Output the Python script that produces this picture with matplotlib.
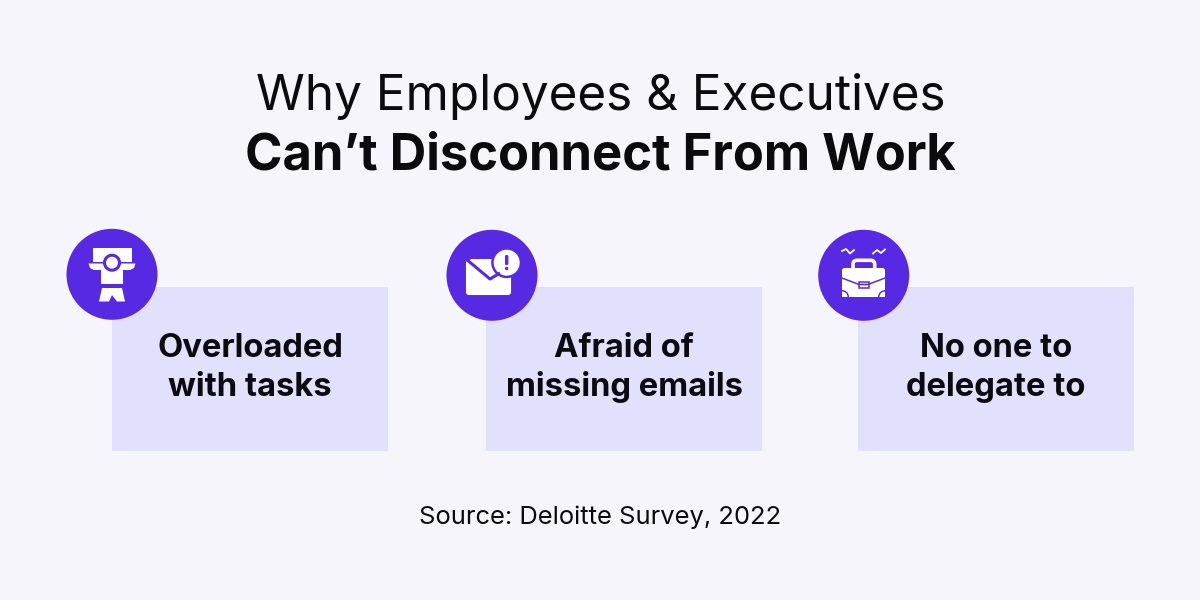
import matplotlib
matplotlib.use('Agg')
import matplotlib.pyplot as plt
from matplotlib.patches import Circle, FancyBboxPatch, Polygon, Rectangle, Wedge

title_lines = ['Why Employees & Executives', 'Can’t Disconnect From Work']
card_labels = [['Overloaded', 'with tasks'], ['Afraid of', 'missing emails'], ['No one to', 'delegate to']]
source = 'Source: Deloitte Survey, 2022'

BG = '#F5F5FB'
CARD = '#E2E1FD'
PURPLE = '#5829E3'
WHITE = '#FFFFFF'
INK = '#0B0B0F'
FONT = 'Inter'

fig = plt.figure(figsize=(12, 6), dpi=100, facecolor=BG)
ax = fig.add_axes([0, 0, 1, 1])
ax.set_xlim(0, 1200)
ax.set_ylim(600, 0)
ax.axis('off')

ax.text(601, 110, title_lines[0], ha='center', va='baseline', fontsize=35.6, color=INK, family=FONT)
ax.text(600.5, 170, title_lines[1], ha='center', va='baseline', fontsize=36.5, color=INK, family=FONT, fontweight='bold')

# cards
card_x = [112, 486, 858]
text_x = [250, 624, 996]
for x, tx, lines in zip(card_x, text_x, card_labels):
    ax.add_patch(Rectangle((x, 287), 276, 164, fc=CARD, ec='none'))
    ax.text(tx, 357, lines[0], ha='center', va='baseline', fontsize=23.6, fontweight='bold', color=INK, family=FONT)
    ax.text(tx, 396, lines[1], ha='center', va='baseline', fontsize=23.6, fontweight='bold', color=INK, family=FONT)

ax.text(600, 524, source, ha='center', va='baseline', fontsize=18.4, color=INK, family=FONT)

# icon 1: person
ax.add_patch(Circle((112, 274.3), 45.5, fc=PURPLE, ec='none'))
ax.add_patch(Rectangle((92.7, 248), 39, 14, fc=WHITE, ec='none'))
ax.add_patch(Polygon([(88.5, 263.5), (135.5, 263.5), (134, 268), (130, 270), (123, 270), (123, 284),
                      (101, 284), (101, 270), (94, 270), (90, 268)], fc=WHITE, ec='none'))
ax.add_patch(Circle((112, 262.7), 7.5, fc=WHITE, ec=PURPLE, lw=2.2))
ax.add_patch(Polygon([(102, 288), (122, 288), (125, 301.5), (117, 301.5), (112, 295), (109, 301.5),
                      (99, 301.5)], fc=WHITE, ec='none'))

# icon 2: envelope with alert
ax.add_patch(Circle((492, 275.3), 45.5, fc=PURPLE, ec='none'))
ax.add_patch(FancyBboxPatch((467, 261), 43, 33, boxstyle='round,pad=0,rounding_size=2', fc=WHITE, ec=WHITE, lw=1.5))
ax.plot([466, 490, 500], [259, 279, 273], color=PURPLE, lw=2.2, solid_capstyle='butt')
ax.add_patch(Polygon([(470, 259), (492, 259), (500, 268), (490, 277)], fc=WHITE, ec='none'))
ax.add_patch(Circle((506.7, 262.7), 15.5, fc=PURPLE, ec='none'))
ax.add_patch(Circle((506.7, 262.7), 13, fc=WHITE, ec='none'))
ax.add_patch(FancyBboxPatch((505.5, 255.5), 2.4, 9, boxstyle='round,pad=0,rounding_size=1', fc=PURPLE, ec=PURPLE, lw=0.8))
ax.add_patch(Circle((506.7, 268.5), 1.7, fc=PURPLE, ec='none'))

# icon 3: briefcase
ax.add_patch(Circle((863.7, 275.3), 45.5, fc=PURPLE, ec='none'))
ax.add_patch(FancyBboxPatch((853, 260.3), 21.7, 11, boxstyle='round,pad=0,rounding_size=4', fc='none', ec=WHITE, lw=2.6))
ax.add_patch(FancyBboxPatch((842, 268), 43, 29, boxstyle='round,pad=0,rounding_size=2.5', fc=WHITE, ec='none'))
ax.plot([842, 859, 868, 885], [278, 284.5, 284.5, 278], color=PURPLE, lw=1.1)
ax.add_patch(Rectangle((858.5, 282), 10, 6, fc=WHITE, ec=PURPLE, lw=1.1))
ax.add_patch(Wedge((842, 297), 7, 270, 360, fc=PURPLE, ec='none'))
ax.add_patch(Wedge((842, 297), 5.5, 270, 360, fc=WHITE, ec='none'))
ax.add_patch(Wedge((885, 297), 7, 180, 270, fc=PURPLE, ec='none'))
ax.add_patch(Wedge((885, 297), 5.5, 180, 270, fc=WHITE, ec='none'))
ax.plot([842, 846, 850, 854], [251, 249, 253.5, 250], color=WHITE, lw=1.3)
ax.plot([873, 877, 881, 885], [253.5, 250, 253, 249.5], color=WHITE, lw=1.3)

fig.savefig('out.png', dpi=100, facecolor=BG)
